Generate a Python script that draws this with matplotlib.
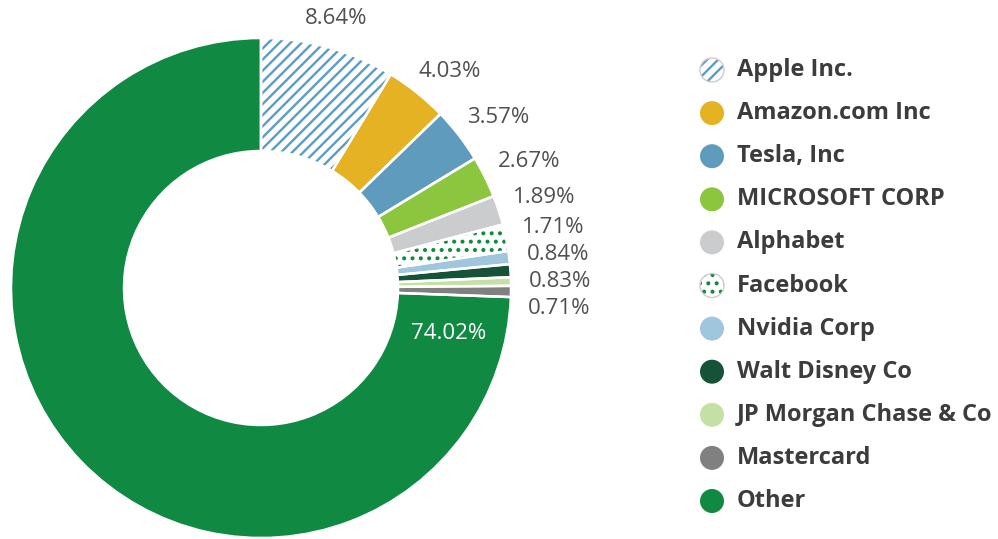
import numpy as np
import matplotlib.pyplot as plt
from matplotlib.patches import Circle

plt.rcParams['font.family'] = ['Open Sans', 'DejaVu Sans']
plt.rcParams['hatch.linewidth'] = 1.7

names = ["Apple Inc.", "Amazon.com Inc", "Tesla, Inc", "MICROSOFT CORP", "Alphabet",
         "Facebook", "Nvidia Corp", "Walt Disney Co", "JP Morgan Chase & Co",
         "Mastercard", "Other"]
shares = [8.64, 4.03, 3.57, 2.67, 1.89, 1.71, 0.84, 0.83, 0.55, 0.71, 74.02]
shown = ["8.64%", "4.03%", "3.57%", "2.67%", "1.89%", "1.71%", "0.84%", "0.83%", "",
         "0.71%", "74.02%"]
colors = ["#5b9cc4", "#e5b224", "#5f9bbd", "#8cc63f", "#cbcccd", "#13893f",
          "#a0c6de", "#155237", "#c5e0a5", "#808080", "#108a43"]
hatches = ["///", None, None, None, None, "..", None, None, None, None, None]

W, H = 998, 539
fig = plt.figure(figsize=(W / 100, H / 100), dpi=100)
ax = fig.add_axes([0, 0, 1, 1])

cx, cy = 261, H - 288
R, r_in = 250, 137

wedges, _ = ax.pie(shares, startangle=90, counterclock=False, center=(cx, cy),
                   radius=R, colors=colors,
                   wedgeprops=dict(width=R - r_in, linewidth=0))
for w, col, h in zip(wedges, colors, hatches):
    if h:
        w.set_facecolor("white")
        w.set_edgecolor(col)
        w.set_hatch(h)
        w.set_linewidth(0)

# white separators
ax.pie(shares, startangle=90, counterclock=False, center=(cx, cy), radius=R,
       colors=["none"] * len(shares),
       wedgeprops=dict(width=R - r_in, edgecolor="white", linewidth=1.8, fill=False))

ax.set_xlim(0, W)
ax.set_ylim(0, H)
ax.axis("off")

# outside percentage labels
prev_y = None
for w, txt in zip(wedges[:-1], shown[:-1]):
    if not txt:
        continue
    mid = np.deg2rad((w.theta1 + w.theta2) / 2)
    if np.rad2deg(mid) > 65:
        # near the top: centred over the slice
        x = cx + 280 * np.cos(mid)
        y = cy + 280 * np.sin(mid)
        ax.text(x, y, txt, ha="center", va="center", fontsize=16, color="#505050")
        prev_y = y
        continue
    rl = 268
    y = cy + rl * np.sin(mid) + 7
    if prev_y is not None and y > prev_y - 27:
        y = prev_y - 27
    prev_y = y
    x = cx + np.sqrt(max(rl ** 2 - (y - cy) ** 2, 0))
    ax.text(x, y, txt, ha="left", va="center", fontsize=16, color="#505050")

# label inside "Other"
other = wedges[-1]
ang = np.deg2rad(other.theta2 - 11.5)
rm = (R + r_in) / 2
ax.text(cx + rm * np.cos(ang), cy + rm * np.sin(ang), shown[-1], ha="center",
        va="center", fontsize=16, color="white")

# legend
for i, (name, col, h) in enumerate(zip(names, colors, hatches)):
    y = H - (70 + i * 43.1)
    if h:
        ax.add_patch(Circle((712, y), 12, facecolor="white", edgecolor=col,
                            hatch=h, linewidth=0))
        ax.add_patch(Circle((712, y), 12, facecolor="none", edgecolor="#cccccc",
                            linewidth=1))
    else:
        ax.add_patch(Circle((712, y), 12, facecolor=col, edgecolor="none"))
    ax.text(737, y, name, ha="left", va="center", fontsize=17, fontweight="bold",
            color="#3c3c3c")

fig.savefig("out.png", dpi=100)
